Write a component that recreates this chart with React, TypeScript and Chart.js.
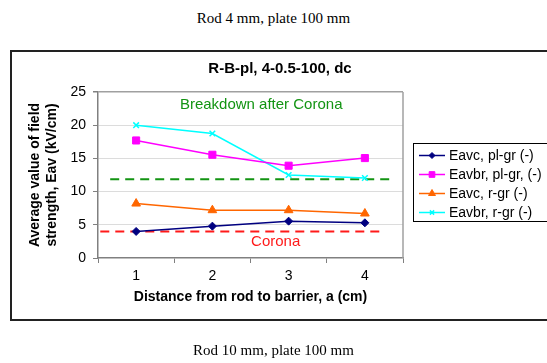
import React, { useEffect, useRef } from "react";
import { Chart, registerables } from "chart.js";
import { drawPoint } from "chart.js/helpers";

Chart.register(...registerables);

const CATEGORIES = ["1", "2", "3", "4"];
const EAVC_PL = [4.0, 4.8, 5.55, 5.3];
const EAVBR_PL = [17.7, 15.55, 13.9, 15.05];
const EAVC_R = [8.2, 7.2, 7.2, 6.7];
const EAVBR_R = [20.0, 18.75, 12.5, 12.05];
const SERIES_LABELS = ["Eavc, pl-gr (-)", "Eavbr, pl-gr, (-)", "Eavc, r-gr (-)", "Eavbr, r-gr (-)"];
const CORONA_LEVEL = 4.0;
const BREAKDOWN_LEVEL = 11.85;
const CORONA_SPAN = [-0.47, 3.22];
const BREAKDOWN_SPAN = [-0.34, 3.35];
const CORONA_TEXT_POS = [1.83, 2.5];
const BREAKDOWN_TEXT_POS = [1.64, 23.1];
const Y_TICKS = [0, 5, 10, 15, 20, 25];

const FONT = "'Liberation Sans', Arial, sans-serif";

const overlayPlugin = {
  id: "overlay",
  beforeDatasetsDraw(chart: any) {
    const { ctx, chartArea: a, scales } = chart;
    const x = scales.x;
    const y = scales.y;
    ctx.save();
    ctx.strokeStyle = "#a0a0a0";
    ctx.lineWidth = 1.5;
    ctx.beginPath();
    ctx.moveTo(a.right, a.top);
    ctx.lineTo(a.right, a.bottom);
    ctx.stroke();
    ctx.lineWidth = 2;
    ctx.setLineDash([9, 6]);
    const drawDash = (level: number, span: number[], color: string) => {
      const py = y.getPixelForValue(level);
      ctx.strokeStyle = color;
      ctx.beginPath();
      ctx.moveTo(x.getPixelForValue(span[0]), py);
      ctx.lineTo(x.getPixelForValue(span[1]), py);
      ctx.stroke();
    };
    drawDash(BREAKDOWN_LEVEL, BREAKDOWN_SPAN, "#139413");
    drawDash(CORONA_LEVEL, CORONA_SPAN, "#ff1a1a");
    ctx.setLineDash([]);
    ctx.font = "15px " + FONT;
    ctx.textAlign = "center";
    ctx.textBaseline = "middle";
    ctx.fillStyle = "#139413";
    ctx.fillText("Breakdown after Corona", x.getPixelForValue(BREAKDOWN_TEXT_POS[0]), y.getPixelForValue(BREAKDOWN_TEXT_POS[1]));
    ctx.fillStyle = "#ff1a1a";
    ctx.fillText("Corona", x.getPixelForValue(CORONA_TEXT_POS[0]), y.getPixelForValue(CORONA_TEXT_POS[1]));
    ctx.restore();
  },
  afterDraw(chart: any) {
    const { ctx, chartArea: a } = chart;
    ctx.save();
    ctx.fillStyle = "#000";
    ctx.textAlign = "center";
    ctx.textBaseline = "middle";
    ctx.font = "bold 15px " + FONT;
    ctx.fillText("R-B-pl, 4-0.5-100, dc", 280, 69);
    ctx.font = "bold 14px " + FONT;
    ctx.fillText("Distance from rod to barrier, a (cm)", (a.left + a.right) / 2, 297);
    ctx.save();
    ctx.translate(0, (a.top + a.bottom) / 2);
    ctx.rotate(-Math.PI / 2);
    ctx.fillText("Average value of field", 0, 35);
    ctx.fillText("strength, Eav (kV/cm)", 0, 52);
    ctx.restore();
    const lx = 413, ly = 143, lw = 140, lh = 78;
    ctx.strokeStyle = "#000";
    ctx.lineWidth = 1;
    ctx.strokeRect(lx + 0.5, ly + 0.5, lw, lh);
    ctx.font = "14px " + FONT;
    ctx.textAlign = "left";
    chart.data.datasets.forEach((ds: any, i: number) => {
      const ry = ly + 12.5 + i * 19;
      ctx.strokeStyle = ds.borderColor;
      ctx.lineWidth = 1.5;
      ctx.beginPath();
      ctx.moveTo(lx + 6, ry);
      ctx.lineTo(lx + 32, ry);
      ctx.stroke();
      ctx.fillStyle = ds.pointBackgroundColor;
      ctx.strokeStyle = ds.pointBorderColor;
      ctx.lineWidth = ds.pointBorderWidth;
      drawPoint(ctx, { pointStyle: ds.pointStyle, radius: ds.pointRadius - 1, rotation: 0, borderWidth: ds.pointBorderWidth }, lx + 19, ry);
      ctx.fillStyle = "#000";
      ctx.fillText(ds.label, lx + 36, ry + 0.5);
    });
    ctx.restore();
  },
};

export default function App() {
  const ref = useRef<HTMLCanvasElement>(null);
  useEffect(() => {
    const mk = (label: string, data: number[], color: string, style: string, radius: number) => ({
      label,
      data,
      borderColor: color,
      backgroundColor: color,
      pointBackgroundColor: color,
      pointBorderColor: color,
      pointBorderWidth: 1,
      pointStyle: style,
      pointRadius: radius,
      borderWidth: 1.5,
      tension: 0,
    });
    const chart = new Chart(ref.current!, {
      type: "line",
      data: {
        labels: CATEGORIES,
        datasets: [
          mk(SERIES_LABELS[0], EAVC_PL, "#000080", "rectRot", 4),
          mk(SERIES_LABELS[1], EAVBR_PL, "#ff00ff", "rect", 5),
          mk(SERIES_LABELS[2], EAVC_R, "#ff6600", "triangle", 5),
          { ...mk(SERIES_LABELS[3], EAVBR_R, "#00ffff", "crossRot", 4), pointBorderWidth: 1.5 },
        ],
      },
      options: {
        responsive: false,
        animation: false,
        layout: { padding: { top: 92, left: 0, right: 144, bottom: 65 } },
        plugins: { legend: { display: false }, title: { display: false }, tooltip: { enabled: false } },
        scales: {
          x: {
            type: "category",
            offset: true,
            afterFit: (s: any) => { s.height = 40; },
            grid: { offset: true, drawOnChartArea: false, drawTicks: true, tickLength: 5, color: "#808080", tickColor: "#808080" },
            border: { color: "#808080", width: 1.5 },
            ticks: { color: "#000", font: { family: FONT, size: 14 }, padding: 5 },
          },
          y: {
            min: 0,
            max: 25,
            afterFit: (s: any) => { s.width = 98; },
            afterBuildTicks: (s: any) => { s.ticks = Y_TICKS.map((v) => ({ value: v })); },
            grid: {
              tickLength: 5,
              tickColor: "#808080",
              color: (c: any) => (c.tick && c.tick.value === 0 ? "rgba(0,0,0,0)" : c.tick && c.tick.value === 25 ? "#a0a0a0" : "#dcdcdc"),
              lineWidth: (c: any) => (c.tick && c.tick.value === 25 ? 1.5 : 1),
            },
            border: { color: "#808080", width: 1.5 },
            ticks: { color: "#000", font: { family: FONT, size: 14 }, padding: 7 },
          },
        },
      },
      plugins: [overlayPlugin],
    } as any);
    return () => chart.destroy();
  }, []);

  const caption: React.CSSProperties = {
    position: "absolute",
    left: 0,
    width: 547,
    textAlign: "center",
    fontFamily: "'Liberation Serif', 'Times New Roman', serif",
    fontSize: 15,
    lineHeight: "20px",
    color: "#000",
  };

  return (
    <div style={{ position: "fixed", left: 0, top: 0, width: 547, height: 363, background: "#fff", overflow: "hidden" }}>
      <div style={{ ...caption, top: 8 }}>Rod 4 mm, plate 100 mm</div>
      <div style={{ position: "absolute", left: 10, top: 50, width: 560, height: 267, border: "2px solid #222" }} />
      <canvas ref={ref} width={547} height={363} style={{ position: "absolute", left: 0, top: 0 }} />
      <div style={{ ...caption, top: 340 }}>Rod 10 mm, plate 100 mm</div>
    </div>
  );
}
